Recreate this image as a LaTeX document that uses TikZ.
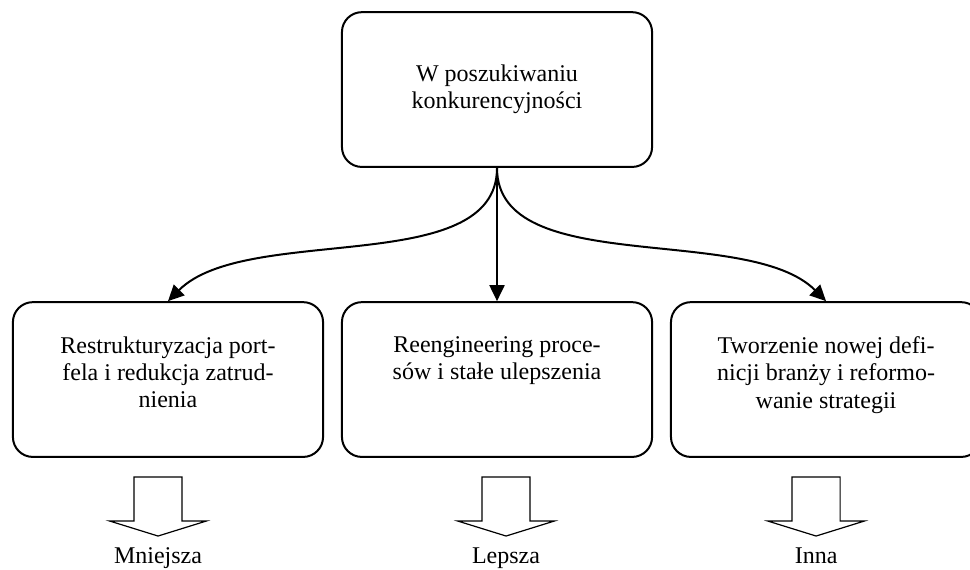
\documentclass[tikz,border=0pt,12pt]{standalone}
\usepackage{fontspec}
\setmainfont{Liberation Serif}
\usetikzlibrary{arrows.meta}

\begin{document}
\begin{tikzpicture}[
	font=\fontsize{12}{13.6}\selectfont,
	cell/.style={
		rectangle,
		rounded corners=3.5mm,
		draw,
		line width=1pt,
		align=center,
		minimum width=5.45cm,
		minimum height=2.72cm,
	},
	celltext/.style={% text at the top of a cell
		anchor=north,
		align=center,
		inner sep=0pt,
		yshift=-0.62cm,
	},
	ArrowC1/.style={
		line width=1pt,
		-{Triangle[length=8pt,width=7.5pt]},
	},
	bigarrow/.style={line width=0.6pt},
]
\useasboundingbox (0,0) rectangle (17.046,10);

\node[cell] (top) at (8.734,8.426) {W poszukiwaniu\\konkurencyjności};

\node[cell] (port) at (2.952,3.330) {};
\node[cell] (proc) at (8.734,3.330) {};
\node[cell] (strat) at (14.516,3.330) {};

\node[celltext] (portT) at (port.north) {Restrukturyzacja port-\\fela i redukcja zatrud-\\nienia};
\node[celltext] (procT) at (proc.north) {Reengineering proce-\\sów i stałe ulepszenia};
\node[celltext] (stratT) at (strat.north) {Tworzenie nowej defi-\\nicji branży i reformo-\\wanie strategii};

\draw[ArrowC1] (top.south) to[out=-90, in=45, looseness=0.8] (port.north);
\draw[ArrowC1] (top.south) -- (proc.north);
\draw[ArrowC1] (top.south) to[out=-90, in=135, looseness=0.8] (strat.north);

% block arrows and results
\foreach \x/\res in {2.777/Mniejsza, 8.893/Lepsza, 14.341/Inna} {
	\draw[bigarrow] (\x-0.422,1.617) -- (\x+0.422,1.617) -- (\x+0.422,0.844)
		-- (\x+0.85,0.844) -- (\x,0.58) -- (\x-0.85,0.844)
		-- (\x-0.422,0.844) -- cycle;
	\node[anchor=base] (\res) at (\x,0.105) {\res};
}

\end{tikzpicture}
\end{document}
